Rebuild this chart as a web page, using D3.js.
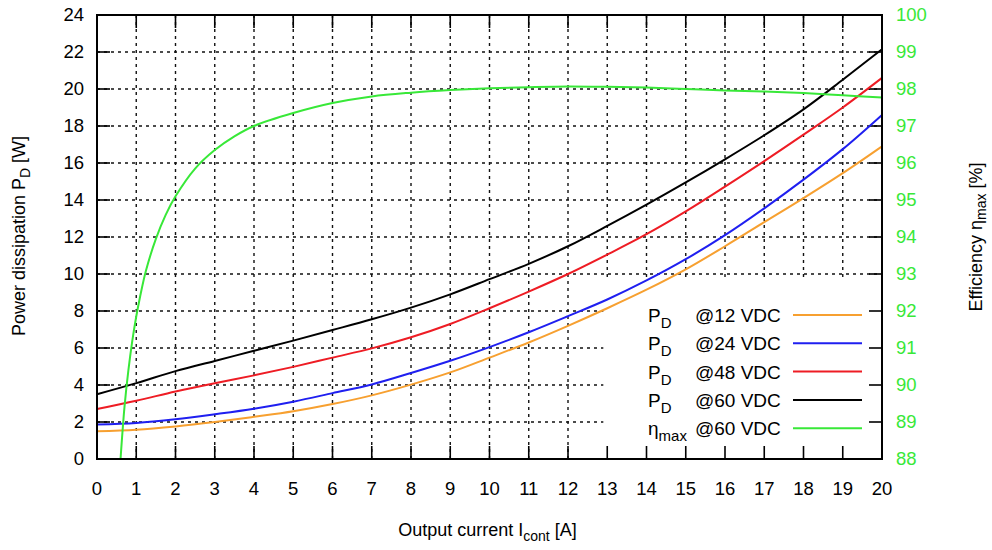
<!DOCTYPE html>
<html>
<head>
<meta charset="utf-8">
<script src="https://cdn.jsdelivr.net/npm/d3@7"></script>
<style>
    body { margin: 0; background: #fff; }
    svg text { font-family: "Liberation Sans", Arial, sans-serif; }
</style>
</head>
<body>
<div id="chart"></div>
<script>
// output current steps [A]
var current = [0, 1, 2, 3, 4, 5, 6, 7, 8, 9, 10, 11, 12, 13, 14, 15, 16, 17, 18, 19, 20];

// power dissipation [W]
var pd12 = [1.5, 1.58, 1.76, 2.0, 2.28, 2.58, 2.97, 3.44, 4.02, 4.68, 5.48, 6.3, 7.2, 8.15, 9.15, 10.25, 11.5, 12.8, 14.1, 15.45, 16.9];
var pd24 = [1.87, 1.95, 2.15, 2.42, 2.72, 3.1, 3.56, 4.03, 4.65, 5.31, 6.05, 6.85, 7.72, 8.62, 9.65, 10.8, 12.1, 13.55, 15.1, 16.75, 18.6];
var pd48 = [2.7, 3.15, 3.65, 4.1, 4.52, 4.98, 5.48, 5.98, 6.58, 7.3, 8.15, 9.05, 10.0, 11.05, 12.15, 13.38, 14.72, 16.1, 17.53, 19.0, 20.6];
var pd60 = [3.5, 4.1, 4.75, 5.3, 5.85, 6.4, 6.97, 7.55, 8.18, 8.9, 9.72, 10.55, 11.5, 12.6, 13.75, 14.95, 16.2, 17.5, 18.9, 20.5, 22.15];

// efficiency at 60 VDC [%]
var effCurrent = [0.6, 0.7, 0.8, 0.9, 1.0, 1.1, 1.25, 1.5, 1.75, 2, 2.5, 3, 3.5, 4, 5, 6, 7, 8, 9, 10, 11, 12, 13, 14, 15, 16, 17, 18, 19, 20];
var eff60 = [88.0, 89.4, 90.4, 91.2, 91.85, 92.4, 93.1, 93.95, 94.6, 95.1, 95.85, 96.35, 96.72, 97.0, 97.35, 97.62, 97.8, 97.9, 97.97, 98.02, 98.05, 98.07, 98.06, 98.04, 98.0, 97.96, 97.93, 97.89, 97.83, 97.77];

var xTicks = d3.range(0, 21, 1);
var yTicks = d3.range(0, 25, 2);
var effTicks = d3.range(88, 101, 1);

var series = [
    {name: "12", values: pd12, color: "#f7a030"},
    {name: "24", values: pd24, color: "#1f1ff0"},
    {name: "48", values: pd48, color: "#ee1c24"},
    {name: "60", values: pd60, color: "#000000"}
];
var green = "#38e838";

var margin = {top: 15, right: 110, bottom: 91, left: 97},
    width = 992 - margin.left - margin.right,
    height = 550 - margin.top - margin.bottom;

var x = d3.scaleLinear().domain([0, 20]).range([0, width]);
var y = d3.scaleLinear().domain([0, 24]).range([height, 0]);
var y2 = d3.scaleLinear().domain([88, 100]).range([height, 0]);

var svg = d3.select("#chart").append("svg")
    .attr("width", 992)
    .attr("height", 550)
    .append("g")
    .attr("transform", "translate(" + margin.left + "," + margin.top + ")");

// dotted grid
svg.append("g")
    .selectAll("line")
    .data(xTicks.slice(1, -1))
    .enter().append("line")
    .attr("x1", function (d) { return x(d); })
    .attr("x2", function (d) { return x(d); })
    .attr("y1", 0)
    .attr("y2", height)
    .attr("stroke", "#111")
    .attr("stroke-width", 1.4)
    .attr("stroke-dasharray", "3,4");

svg.append("g")
    .selectAll("line")
    .data(yTicks.slice(1, -1))
    .enter().append("line")
    .attr("x1", 0)
    .attr("x2", width)
    .attr("y1", function (d) { return y(d); })
    .attr("y2", function (d) { return y(d); })
    .attr("stroke", "#111")
    .attr("stroke-width", 1.4)
    .attr("stroke-dasharray", "3,4");

// opaque key background
svg.append("rect")
    .attr("x", x(12.9))
    .attr("y", y(9.7))
    .attr("width", x(20) - x(12.9))
    .attr("height", y(0) - y(9.7))
    .attr("fill", "#fff");

// tick marks (inward on all four sides)
var tickLen = 13;
function ticks(data, scale, horiz, pos, dir) {
    svg.append("g")
        .selectAll("line")
        .data(data)
        .enter().append("line")
        .attr("x1", function (d) { return horiz ? scale(d) : pos; })
        .attr("x2", function (d) { return horiz ? scale(d) : pos + dir * tickLen; })
        .attr("y1", function (d) { return horiz ? pos : scale(d); })
        .attr("y2", function (d) { return horiz ? pos + dir * tickLen : scale(d); })
        .attr("stroke", "#000")
        .attr("stroke-width", 1.6);
}
ticks(xTicks, x, true, height, -1);
ticks(xTicks, x, true, 0, 1);
ticks(yTicks, y, false, 0, 1);
ticks(effTicks, y2, false, width, -1);

// curves
var pdLine = d3.line()
    .x(function (d, i) { return x(current[i]); })
    .y(function (d) { return y(d); })
    .curve(d3.curveCatmullRom);

series.forEach(function (s) {
    svg.append("path")
        .datum(s.values)
        .attr("fill", "none")
        .attr("stroke", s.color)
        .attr("stroke-width", 2)
        .attr("d", pdLine);
});

var effLine = d3.line()
    .x(function (d, i) { return x(effCurrent[i]); })
    .y(function (d) { return y2(d); })
    .curve(d3.curveCatmullRom);

svg.append("path")
    .datum(eff60)
    .attr("fill", "none")
    .attr("stroke", green)
    .attr("stroke-width", 2)
    .attr("d", effLine);

// frame
svg.append("rect")
    .attr("width", width)
    .attr("height", height)
    .attr("fill", "none")
    .attr("stroke", "#000")
    .attr("stroke-width", 2);

// tick labels
svg.append("g")
    .selectAll("text")
    .data(yTicks)
    .enter().append("text")
    .attr("x", -13)
    .attr("y", function (d) { return y(d); })
    .attr("dy", "0.35em")
    .attr("text-anchor", "end")
    .style("font-size", "18.5px")
    .text(function (d) { return d; });

svg.append("g")
    .selectAll("text")
    .data(xTicks)
    .enter().append("text")
    .attr("x", function (d) { return x(d); })
    .attr("y", height + 30)
    .attr("dy", "0.35em")
    .attr("text-anchor", "middle")
    .style("font-size", "18.5px")
    .text(function (d) { return d; });

svg.append("g")
    .selectAll("text")
    .data(effTicks)
    .enter().append("text")
    .attr("x", width + 14)
    .attr("y", function (d) { return y2(d); })
    .attr("dy", "0.35em")
    .attr("fill", green)
    .style("font-size", "18.5px")
    .text(function (d) { return d; });

// axis titles
var xt = svg.append("text")
    .attr("x", width / 2 - 2)
    .attr("y", height + 77)
    .attr("text-anchor", "middle")
    .style("font-size", "18px");
xt.append("tspan").text("Output current I");
xt.append("tspan").attr("dy", 5).style("font-size", "14px").text("cont");
xt.append("tspan").attr("dy", -5).text(" [A]");

var yt = svg.append("text")
    .attr("transform", "translate(" + (-72) + "," + (height / 2 - 1) + ") rotate(-90)")
    .attr("text-anchor", "middle")
    .style("font-size", "18px");
yt.append("tspan").text("Power dissipation P");
yt.append("tspan").attr("dy", 5).style("font-size", "14px").text("D");
yt.append("tspan").attr("dy", -5).text(" [W]");

var rt = svg.append("text")
    .attr("transform", "translate(" + (width + 100) + "," + (height / 2) + ") rotate(-90)")
    .attr("text-anchor", "middle")
    .style("font-size", "18px");
rt.append("tspan").text("Efficiency  \u03b7");
rt.append("tspan").attr("dy", 4).style("font-size", "14px").text("max");
rt.append("tspan").attr("dy", -4).text(" [%]");

// legend
var legend = series.map(function (s) {
    return {sym: "P", sub: "D", label: "@" + s.name + " VDC", color: s.color};
});
legend.push({sym: "\u03b7", sub: "max", label: "@60 VDC", color: green});

var rowY = 300;
legend.forEach(function (d) {
    var t = svg.append("text")
        .attr("x", 551)
        .attr("y", rowY + 7)
        .style("font-size", "19px");
    t.append("tspan").text(d.sym);
    t.append("tspan").attr("dy", 6).style("font-size", "15px").text(d.sub);

    svg.append("text")
        .attr("x", 598)
        .attr("y", rowY + 7)
        .style("font-size", "19px")
        .text(d.label);

    svg.append("line")
        .attr("x1", 696)
        .attr("x2", 765)
        .attr("y1", rowY)
        .attr("y2", rowY)
        .attr("stroke", d.color)
        .attr("stroke-width", 2);

    rowY += 28.3;
});
</script>
</body>
</html>
